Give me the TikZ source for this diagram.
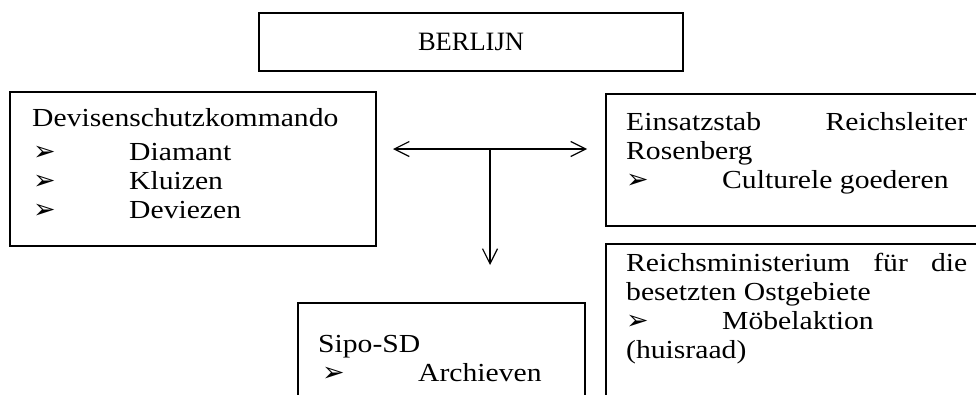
\documentclass[tikz,border=0pt]{standalone}
\usepackage{fontspec}
\setmainfont[FakeStretch=1.14]{Liberation Serif}
\newfontfamily\titlefont{Liberation Serif}
\newfontfamily\bulletfont{DejaVu Sans}
\usetikzlibrary{arrows.meta}
\tikzset{
  box/.style={draw=black, line width=1.5pt},
  txt/.style={anchor=base west, inner sep=0pt, font=\fontsize{26}{30}\selectfont},
  bul/.style={anchor=base west, inner sep=0pt, font=\bulletfont\fontsize{27}{32}\selectfont},
  conn/.style={line width=1.2pt, -{Straight Barb[length=15pt,width=15pt,line width=1.2pt]}},
}
\begin{document}
\begin{tikzpicture}[x=1pt,y=-1pt]
\useasboundingbox (0,0) rectangle (976,394);
\clip (0,0) rectangle (976,394);
% boxes
\draw[box] (259,13) rectangle (683,71);
\node[inner sep=0pt, font=\titlefont\fontsize{26.5}{30}\selectfont] (berlijn) at (471,42) {BERLIJN};
\draw[box] (10,92) rectangle (376,246);
\draw[box] (606,94) rectangle (1000,226);
\draw[box] (606,244) rectangle (1000,420);
\draw[box] (298,303) rectangle (585,420);
% left box text
\node[txt] (dsk) at (32,126) {Devisenschutzkommando};
\node[bul] (b1) at (33,160) {➢};
\node[txt] (dia) at (129,160) {Diamant};
\node[bul] (b2) at (33,189) {➢};
\node[txt] (klu) at (129,189) {Kluizen};
\node[bul] (b3) at (33,218) {➢};
\node[txt] (dev) at (129,218) {Deviezen};
% right top
\node[txt] (ers) at (626,130) {\makebox[341pt][s]{Einsatzstab Reichsleiter}};
\node[txt] (ros) at (626,159) {Rosenberg};
\node[bul] (b4) at (626,188) {➢};
\node[txt] (cul) at (722,188) {Culturele goederen};
% Reichsministerium
\node[txt] (rmf) at (626,271) {\makebox[341pt][s]{Reichsministerium für die}};
\node[txt] (bes) at (626,300) {besetzten Ostgebiete};
\node[bul] (b5) at (626,329) {➢};
\node[txt] (mob) at (722,329) {Möbelaktion};
\node[txt] (hui) at (626,358) {(huisraad)};
% Sipo
\node[txt] (sip) at (318,352) {Sipo-SD};
\node[bul] (b6) at (322,381) {➢};
\node[txt] (arc) at (418,381) {Archieven};
% connectors
\coordinate (j) at (490,149);
\coordinate (al) at (393,149);
\coordinate (ar) at (587,149);
\coordinate (ad) at (490,265);
\draw[conn] (j) -- (al);
\draw[conn] (j) -- (ar);
\draw[conn] (j) -- (ad);
\end{tikzpicture}
\end{document}
